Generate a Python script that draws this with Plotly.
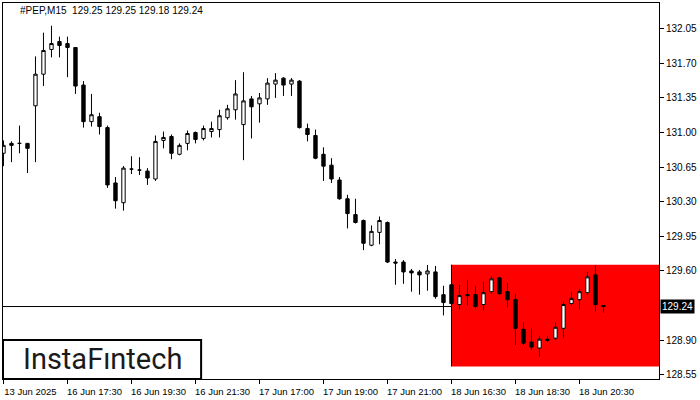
import plotly.graph_objects as go

# ---- data (M15 bars) ----
opens = [130.79, 130.89, 130.89, 130.89, 131.27, 131.59, 131.84, 131.92, 131.90, 131.86,
         131.48, 131.11, 131.16, 131.05, 130.49, 130.29, 130.63, 130.62, 130.61, 130.53,
         130.92, 130.96, 130.78, 130.89, 131.00, 130.94, 131.01, 131.03, 131.15, 131.23,
         131.08, 131.34, 131.29, 131.34, 131.49, 131.55, 131.49, 131.52, 131.04, 130.97,
         130.78, 130.67, 130.52, 130.33, 130.17, 130.11, 129.86, 129.99, 130.09, 129.69,
         129.69, 129.60, 129.59, 129.57, 129.59, 129.36, 129.46, 129.26, 129.36, 129.36,
         129.26, 129.39, 129.53, 129.39, 129.31, 129.01, 128.88, 128.82, 128.91, 128.92,
         129.02, 129.27, 129.31, 129.38, 129.56, 129.25]
highs = [130.92, 130.91, 131.07, 130.89, 131.77, 132.01, 132.08, 131.97, 131.97, 131.86,
         131.52, 131.39, 131.20, 131.07, 130.55, 130.66, 130.76, 130.75, 130.64, 130.97,
         131.01, 130.98, 130.89, 131.02, 131.01, 131.07, 131.11, 131.23, 131.28, 131.53,
         131.61, 131.37, 131.40, 131.55, 131.60, 131.56, 131.55, 131.53, 131.09, 131.03,
         130.85, 130.74, 130.55, 130.37, 130.33, 130.12, 130.06, 130.15, 130.10, 129.72,
         129.71, 129.62, 129.61, 129.66, 129.65, 129.45, 129.47, 129.46, 129.51, 129.45,
         129.49, 129.55, 129.54, 129.48, 129.37, 129.08, 129.02, 128.94, 128.94, 129.08,
         129.29, 129.39, 129.42, 129.59, 129.66, 129.25]
lows = [130.66, 130.70, 130.79, 130.59, 130.70, 131.47, 131.76, 131.76, 131.56, 131.39,
        131.05, 131.06, 130.98, 130.44, 130.23, 130.21, 130.58, 130.57, 130.47, 130.51,
        130.84, 130.73, 130.77, 130.82, 130.89, 130.92, 130.95, 130.95, 131.13, 131.13,
        130.72, 130.94, 131.10, 131.28, 131.35, 131.37, 131.37, 131.04, 130.91, 130.73,
        130.51, 130.49, 130.32, 130.03, 130.08, 129.81, 129.85, 129.87, 129.68, 129.46,
        129.47, 129.39, 129.36, 129.40, 129.32, 129.15, 129.26, 129.21, 129.25, 129.22,
        129.20, 129.37, 129.36, 129.23, 128.85, 128.85, 128.80, 128.73, 128.88, 128.90,
        128.92, 129.25, 129.21, 129.36, 129.19, 129.18]
closes = [130.87, 130.87, 130.89, 130.84, 131.59, 131.83, 131.90, 131.88, 131.86, 131.47,
          131.11, 131.18, 131.06, 130.47, 130.31, 130.64, 130.63, 130.62, 130.54, 130.91,
          130.95, 130.79, 130.87, 130.99, 130.93, 131.04, 131.04, 131.17, 131.24, 131.39,
          131.32, 131.26, 131.35, 131.50, 131.53, 131.48, 131.53, 131.05, 130.98, 130.74,
          130.66, 130.53, 130.33, 130.18, 130.09, 129.88, 130.00, 130.11, 129.69, 129.68,
          129.59, 129.58, 129.56, 129.60, 129.34, 129.28, 129.27, 129.35, 129.35, 129.24,
          129.38, 129.52, 129.37, 129.31, 129.02, 128.87, 128.83, 128.91, 128.90, 129.03,
          129.26, 129.32, 129.39, 129.54, 129.26, 129.24]
bars = list(range(len(opens)))

tick_bars = [0, 8, 16, 24, 32, 40, 48, 56, 64, 72]
tick_labels = ["13 Jun 2025", "16 Jun 17:30", "16 Jun 19:30", "16 Jun 21:30",
               "17 Jun 17:00", "17 Jun 19:00", "17 Jun 21:00", "18 Jun 16:30",
               "18 Jun 18:30", "18 Jun 20:30"]
price_ticks = [128.55, 128.90, 129.60, 129.95, 130.30, 130.65, 131.00, 131.35, 131.70, 132.05]
price_labels = ["128.55", "128.90", "129.60", "129.95", "130.30", "130.65", "131.00",
                "131.35", "131.70", "132.05"]

title_text = "#PEP,M15  129.25 129.25 129.18 129.24"
last_price = 129.24
zone_start_bar = 56
zone_top = 129.663
zone_bottom = 128.634

X_RANGE = [-0.06, 81.94]
Y_RANGE = [128.507, 132.310]

fig = go.Figure()

fig.add_trace(go.Candlestick(
    x=bars, open=opens, high=highs, low=lows, close=closes,
    increasing=dict(line=dict(color="black", width=1), fillcolor="white"),
    decreasing=dict(line=dict(color="black", width=1), fillcolor="black"),
    whiskerwidth=0, showlegend=False, hoverinfo="skip",
))

# red zone
fig.add_shape(type="rect", xref="x", yref="y", x0=zone_start_bar, x1=X_RANGE[1],
              y0=zone_bottom, y1=zone_top, fillcolor="#ff0000", line=dict(width=0), layer="below")
fig.add_shape(type="line", xref="x", yref="y", x0=zone_start_bar, x1=zone_start_bar,
              y0=zone_bottom, y1=zone_top, line=dict(color="black", width=1), layer="below")
# price line
fig.add_shape(type="line", xref="paper", yref="y", x0=0, x1=1, y0=last_price, y1=last_price,
              line=dict(color="black", width=1), layer="below")

# logo box
fig.add_shape(type="rect", xref="paper", yref="paper", x0=0.0, x1=0.302, y0=0.0, y1=0.104,
              fillcolor="white", line=dict(color="black", width=2), layer="above")
fig.add_annotation(xref="paper", yref="paper", x=0.152, y=0.053, text="InstaFıntech",
                   showarrow=False, xanchor="center", yanchor="middle",
                   font=dict(family="Roboto", size=29, color="#1a1a1a"))

# title
fig.add_annotation(xref="paper", yref="paper", x=0.0229, y=0.979, text=title_text,
                   showarrow=False, xanchor="left", yanchor="middle",
                   font=dict(family="Liberation Sans", size=10, color="black"))

# current price label
fig.add_annotation(xref="paper", yref="y", x=1, y=last_price, text=str(last_price),
                   showarrow=False, xanchor="left", yanchor="middle", xshift=1,
                   bgcolor="black", borderpad=1,
                   font=dict(family="Liberation Sans", size=10, color="white"))

fig.update_layout(
    width=700, height=400,
    margin=dict(l=3, r=41, t=3, b=21),
    paper_bgcolor="white", plot_bgcolor="white",
    showlegend=False, boxgap=0.4,
    xaxis=dict(range=X_RANGE, rangeslider=dict(visible=False), showgrid=False, zeroline=False,
               showline=True, mirror=True, linecolor="black", linewidth=1,
               tickmode="array", tickvals=tick_bars, ticktext=tick_labels,
               ticks="outside", ticklen=4, tickcolor="black", ticklabelshift=27,
               tickfont=dict(family="Liberation Sans", size=9.5, color="black")),
    yaxis=dict(range=Y_RANGE, side="right", showgrid=False, zeroline=False,
               showline=True, mirror=True, linecolor="black", linewidth=1,
               tickmode="array", tickvals=price_ticks, ticktext=price_labels,
               ticks="outside", ticklen=4, tickcolor="black",
               tickfont=dict(family="Liberation Sans", size=10, color="black")),
)

fig.write_html("out.html", config={"displayModeBar": False},
               post_script="document.body.style.margin='0';document.body.style.padding='0';")
